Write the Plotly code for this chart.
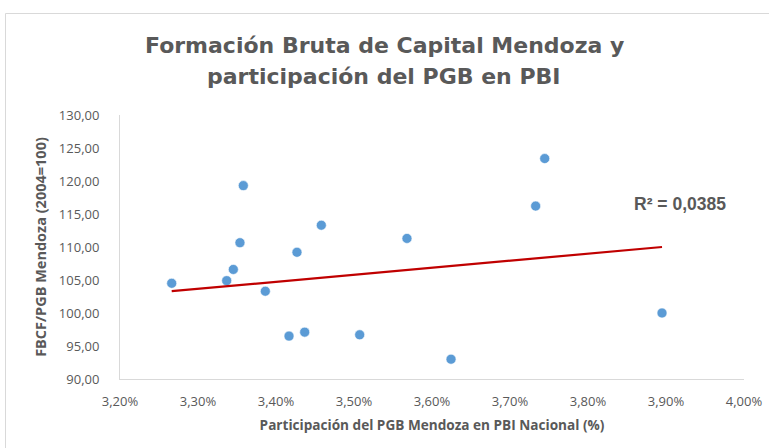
import plotly.graph_objects as go

# Participación del PGB Mendoza en PBI Nacional (%)
participacion = [3.2663, 3.3368, 3.3453, 3.3538, 3.3581, 3.3863, 3.4167, 3.4368,
                 3.4269, 3.4581, 3.5073, 3.5679, 3.6244, 3.7329, 3.7445, 3.8949]
# FBCF/PGB Mendoza (2004=100)
fbcf_pgb = [104.5, 104.9, 106.6, 110.65, 119.3, 103.3, 96.5, 97.1,
            109.2, 113.3, 96.7, 111.3, 93.0, 116.2, 123.4, 100.0]
# Linear trendline as drawn in the chart (endpoints at min/max participation)
trend_x = [min(participacion), max(participacion)]
trend_y = [103.3, 110.0]
r2_label = "R² = 0,0385"

x = [v / 100.0 for v in participacion]
tx = [v / 100.0 for v in trend_x]

GRAY = "#595959"
AXIS = "#D9D9D9"

# plot area in pixels: left 120, right 744, top 115, bottom 379
L, R, T, B = 120, 744, 115, 379
W, H = R - L, B - T

def px(xp):
    return (xp - L) / W

def py(yp):
    return (B - yp) / H

fig = go.Figure()
fig.add_trace(go.Scatter(x=x, y=fbcf_pgb, mode="markers",
                         marker=dict(size=10, color="#5B9BD5",
                                     line=dict(width=0.6, color="#ffffff")),
                         showlegend=False, hoverinfo="x+y"))
fig.add_trace(go.Scatter(x=tx, y=trend_y, mode="lines",
                         line=dict(color="#C00000", width=2.2),
                         showlegend=False, hoverinfo="skip"))

fig.add_annotation(x=px(680), y=py(204), xref="paper", yref="paper",
                   xanchor="center", yanchor="middle",
                   text="<b>" + r2_label + "</b>", showarrow=False,
                   font=dict(family="Liberation Sans, Arial", size=17.5, color=GRAY))

title_font = dict(family="DejaVu Sans, Liberation Sans", size=22, color=GRAY)
fig.add_annotation(x=px(384), y=py(45), xref="paper", yref="paper",
                   text="<b>Formación Bruta de Capital Mendoza y</b>", showarrow=False,
                   xanchor="center", yanchor="middle", font=title_font)
fig.add_annotation(x=px(384), y=py(76.5), xref="paper", yref="paper",
                   text="<b>participación del PGB en PBI</b>", showarrow=False,
                   xanchor="center", yanchor="middle", font=title_font)

# chart-area border
fig.add_shape(type="rect", xref="paper", yref="paper",
              x0=px(5.5), x1=px(790), y0=py(470), y1=py(13.5),
              line=dict(color=AXIS, width=1), fillcolor="rgba(0,0,0,0)", layer="below")

tick_font = dict(family="Open Sans, Liberation Sans", size=13, color=GRAY)

fig.update_layout(
    width=769, height=448,
    margin=dict(l=L, r=769 - R, t=T, b=448 - B, autoexpand=False),
    paper_bgcolor="white", plot_bgcolor="white",
    separators=",.",
    xaxis=dict(range=[0.032, 0.040], dtick=0.001, tickformat=".2%",
               showgrid=False, zeroline=False,
               showline=True, linecolor=AXIS, linewidth=1,
               ticks="outside", ticklen=10, tickcolor="rgba(0,0,0,0)",
               tickfont=tick_font,
               title=dict(text="<b>Participación del PGB Mendoza en PBI Nacional (%)</b>",
                          standoff=11,
                          font=dict(family="Open Sans, Liberation Sans", size=13.6, color=GRAY))),
    yaxis=dict(range=[90, 130], dtick=5, tickformat=".2f",
               showgrid=False, zeroline=False,
               showline=True, linecolor=AXIS, linewidth=1,
               ticks="outside", ticklen=17, tickcolor="rgba(0,0,0,0)",
               tickfont=tick_font,
               title=dict(text="<b>FBCF/PGB Mendoza (2004=100)</b>",
                          standoff=8,
                          font=dict(family="Open Sans, Liberation Sans", size=14.5, color=GRAY))),
)

fig.write_html("out.html", config={"displayModeBar": False},
               post_script="document.body.style.margin='0';")
